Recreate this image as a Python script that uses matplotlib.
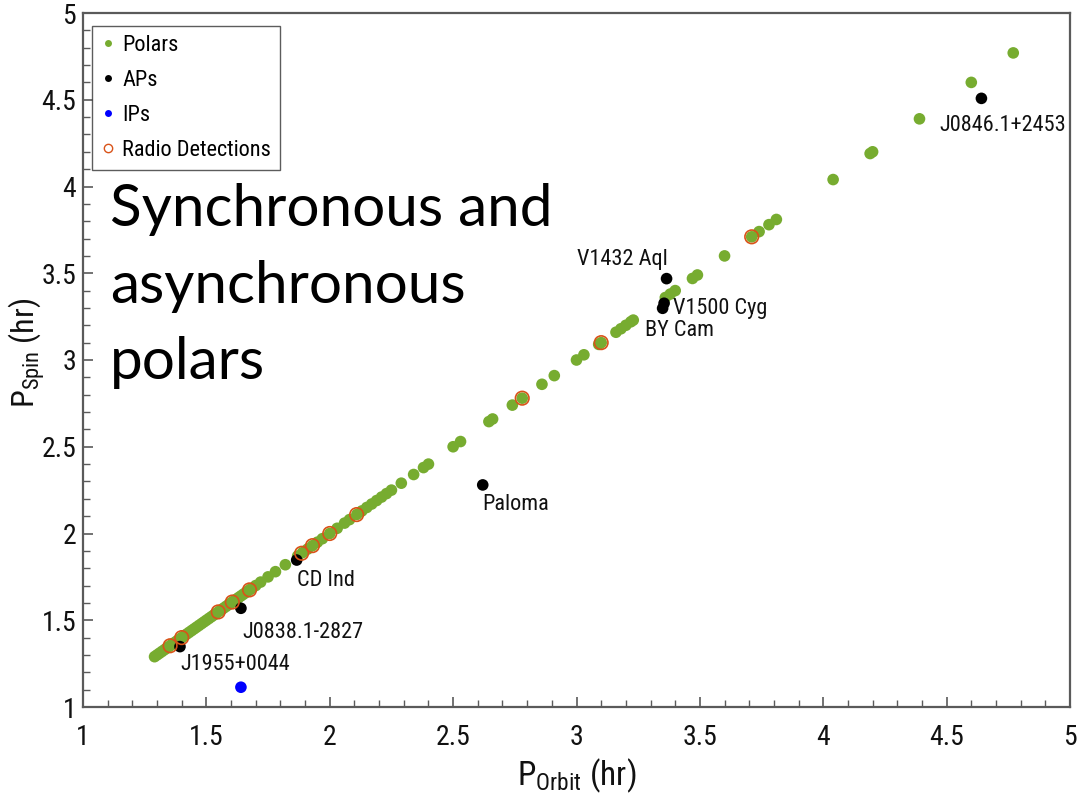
import matplotlib
matplotlib.use("Agg")
import matplotlib.pyplot as plt
from matplotlib import font_manager as fm
from matplotlib.lines import Line2D
from matplotlib.ticker import MultipleLocator

# ---------------- data ----------------
polar_orb = [1.29, 1.30, 1.31, 1.32, 1.33, 1.34, 1.35, 1.36, 1.37, 1.38, 1.39, 1.40,
             1.41, 1.42, 1.43, 1.44, 1.45, 1.46, 1.47, 1.48, 1.49, 1.50, 1.51, 1.52,
             1.53, 1.54, 1.55, 1.56, 1.57, 1.58, 1.59, 1.60, 1.61, 1.62, 1.63, 1.64,
             1.65, 1.66, 1.67, 1.68, 1.70, 1.72, 1.75, 1.78, 1.82, 1.87, 1.89, 1.91,
             1.93, 1.95, 1.97, 2.00, 2.03, 2.06, 2.08, 2.11, 2.13, 2.15, 2.17, 2.19,
             2.21, 2.23, 2.25, 2.29, 2.34, 2.38, 2.40, 2.50, 2.53, 2.645, 2.66, 2.74,
             2.78, 2.86, 2.91, 3.00, 3.03, 3.09, 3.10, 3.16, 3.18, 3.20, 3.22, 3.23,
             3.36, 3.38, 3.40, 3.47, 3.49, 3.60, 3.71, 3.74, 3.78, 3.81, 4.04, 4.19,
             4.20, 4.39, 4.60, 4.77]
polar_spin = [1.29, 1.30, 1.31, 1.32, 1.33, 1.34, 1.35, 1.36, 1.37, 1.38, 1.39, 1.40,
              1.41, 1.42, 1.43, 1.44, 1.45, 1.46, 1.47, 1.48, 1.49, 1.50, 1.51, 1.52,
              1.53, 1.54, 1.55, 1.56, 1.57, 1.58, 1.59, 1.60, 1.61, 1.62, 1.63, 1.64,
              1.65, 1.66, 1.67, 1.68, 1.70, 1.72, 1.75, 1.78, 1.82, 1.87, 1.89, 1.91,
              1.93, 1.95, 1.97, 2.00, 2.03, 2.06, 2.08, 2.11, 2.13, 2.15, 2.17, 2.19,
              2.21, 2.23, 2.25, 2.29, 2.34, 2.38, 2.40, 2.50, 2.53, 2.645, 2.66, 2.74,
              2.78, 2.86, 2.91, 3.00, 3.03, 3.09, 3.10, 3.16, 3.18, 3.20, 3.22, 3.23,
              3.36, 3.38, 3.40, 3.47, 3.49, 3.60, 3.71, 3.74, 3.78, 3.81, 4.04, 4.19,
              4.20, 4.39, 4.60, 4.77]

ap_names = ["J1955+0044", "J0838.1-2827", "CD Ind", "Paloma", "V1432 Aql",
            "V1500 Cyg", "BY Cam", "J0846.1+2453"]
ap_orb = [1.393, 1.640, 1.866, 2.620, 3.365, 3.355, 3.349, 4.641]
ap_spin = [1.348, 1.569, 1.847, 2.280, 3.469, 3.327, 3.298, 4.508]
ap_label_offset_px = [(0, -18), (1, -24), (0, -20), (0, -20), (-90, 19),
                      (9, -5), (-18, -22), (-42, -27)]

ip_orb = [1.640]
ip_spin = [1.114]

radio_orb = [1.353, 1.40, 1.548, 1.605, 1.675, 1.886, 1.93, 2.00, 2.109, 2.78, 3.10, 3.71]
radio_spin = [1.353, 1.40, 1.548, 1.605, 1.675, 1.886, 1.93, 2.00, 2.109, 2.78, 3.10, 3.71]

legend_labels = ["Polars", "APs", "IPs", "Radio Detections"]
title_text = "Synchronous and\nasynchronous\npolars"

# ---------------- fonts ----------------
avail = {f.name for f in fm.fontManager.ttflist}
def pick(cands):
    for c in cands:
        if c in avail:
            return c
    return "DejaVu Sans"
narrow = pick(["Liberation Sans Narrow", "Roboto Condensed", "Liberation Sans", "Roboto"])
bigfont = pick(["Lato", "Open Sans", "Noto Sans"])

plt.rcParams['font.family'] = [narrow, 'DejaVu Sans']
plt.rcParams['mathtext.fontset'] = 'custom'
plt.rcParams['mathtext.rm'] = narrow
plt.rcParams['mathtext.it'] = narrow

GREEN = "#77AC30"
RED = "#D95319"
AXC = "#5a5a5a"

fig = plt.figure(figsize=(10.78, 8.07), dpi=100)
ax = fig.add_axes([83/1078, 1-707/807, 987/1078, 694/807])

ax.scatter(polar_orb, polar_spin, s=70, color=GREEN, edgecolors='none', zorder=2)
ax.scatter(ap_orb, ap_spin, s=70, color='black', edgecolors='none', zorder=3)
ax.scatter(ip_orb, ip_spin, s=70, color='#0000FF', edgecolors='none', zorder=3)
ax.scatter(radio_orb, radio_spin, s=95, facecolors='none', edgecolors=RED,
           linewidths=1.2, zorder=4)

for name, x, y, off in zip(ap_names, ap_orb, ap_spin, ap_label_offset_px):
    ax.annotate(name, xy=(x, y), xytext=off, textcoords='offset pixels',
                ha='left', va='center', fontsize=16, color='#111111', zorder=5)

ax.set_xlim(1, 5)
ax.set_ylim(1, 5)
ax.xaxis.set_major_locator(MultipleLocator(0.5))
ax.yaxis.set_major_locator(MultipleLocator(0.5))
ax.xaxis.set_minor_locator(MultipleLocator(0.1))
ax.yaxis.set_minor_locator(MultipleLocator(0.1))
ax.xaxis.set_major_formatter(matplotlib.ticker.FuncFormatter(lambda v, p: f"{v:g}"))
ax.yaxis.set_major_formatter(matplotlib.ticker.FuncFormatter(lambda v, p: f"{v:g}"))
ax.tick_params(which='both', direction='in', colors=AXC, labelcolor='#111111',
               top=False, right=False)
ax.tick_params(which='major', length=7, width=1.2, labelsize=20)
ax.tick_params(which='minor', length=5, width=1.0)
ax.tick_params(axis='x', which='major', pad=12)
ax.tick_params(axis='y', which='major', pad=5)
for sp in ax.spines.values():
    sp.set_color(AXC)
    sp.set_linewidth(1.6)

ax.set_xlabel(r"$\mathrm{P_{Orbit}}$ (hr)", fontsize=24, color='#111111', labelpad=4)
ax.set_ylabel(r"$\mathrm{P_{Spin}}$ (hr)", fontsize=23, color='#111111')
ax.yaxis.set_label_coords((47-83)/987, (707-353)/694)

handles = [
    Line2D([], [], linestyle='none', marker='o', markersize=5, color=GREEN, markeredgewidth=0),
    Line2D([], [], linestyle='none', marker='o', markersize=5, color='black', markeredgewidth=0),
    Line2D([], [], linestyle='none', marker='o', markersize=5, color='#0000FF', markeredgewidth=0),
    Line2D([], [], linestyle='none', marker='o', markersize=6, markerfacecolor='none',
           markeredgecolor=RED, markeredgewidth=1.0),
]
leg = ax.legend(handles, legend_labels, loc='upper left',
                bbox_to_anchor=((92-83)/987, (707-26)/694), borderaxespad=0,
                fontsize=16, frameon=True, fancybox=False, labelspacing=0.63,
                handlelength=0.6, handletextpad=0.36, borderpad=0.4)
leg.get_frame().set_edgecolor('#333333')
leg.get_frame().set_linewidth(1.0)

fig.text(110/1078, 1-183/807, title_text, fontsize=42, family=bigfont,
         ha='left', va='top', linespacing=1.55, color='black')

fig.savefig("out.png", dpi=100)
